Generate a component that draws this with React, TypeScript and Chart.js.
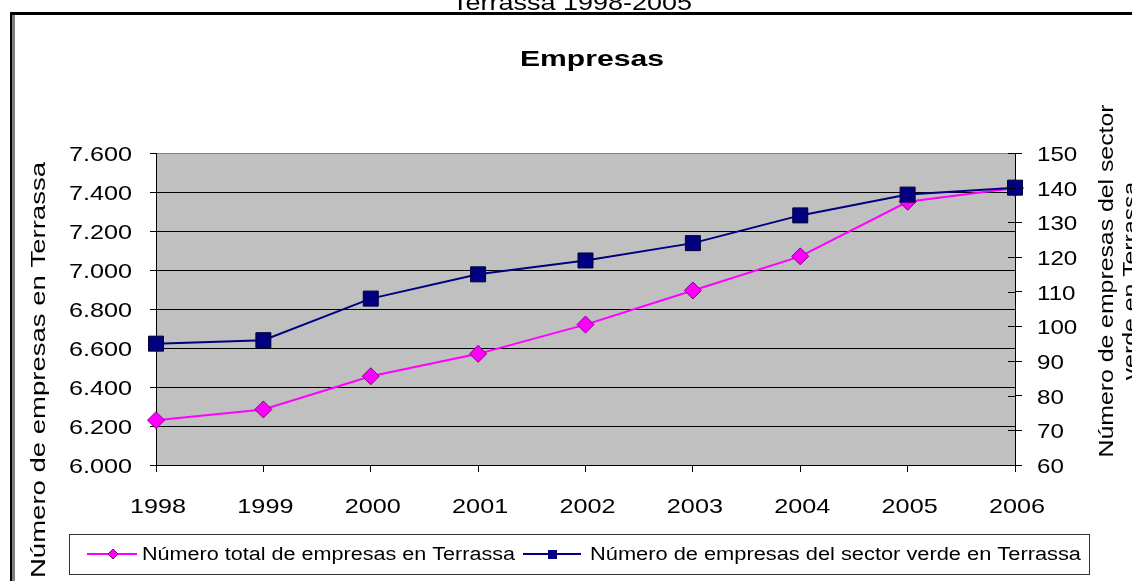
import React, { useEffect, useRef } from 'react';
import { Chart, registerables } from 'chart.js';

Chart.register(...registerables);

// ---- data ----
const years = ['1998', '1999', '2000', '2001', '2002', '2003', '2004', '2005', '2006'];
const totalEmpresas = [6230, 6285, 6455, 6570, 6720, 6895, 7070, 7350, 7420];
const empresasVerdes = [95, 96, 108, 115, 119, 124, 132, 138, 140];
const leftAxisRange = [6000, 7600];
const leftAxisStep = 200;
const rightAxisRange = [60, 150];
const rightAxisStep = 10;
const seriesLabels = [
  'Número total de empresas en Terrassa',
  'Número de empresas del sector verde en Terrassa',
];
const topTitle = 'Terrassa 1998-2005';
const chartTitle = 'Empresas';
const leftAxisTitle = 'Número de empresas en Terrassa';
const rightAxisTitle = ['Número de empresas del sector', 'verde en Terrassa'];

const FONT = '"Liberation Sans", Arial, sans-serif';
const PINK = '#FF00FF';
const NAVY = '#000080';

const fmtThousands = (v: number) => String(v).replace(/\B(?=(\d{3})+(?!\d))/g, '.');

function drawText(
  ctx: CanvasRenderingContext2D,
  text: string,
  x: number,
  y: number,
  font: string,
  opts: { align?: 'left' | 'center' | 'right'; width?: number; sx?: number; rotate?: number } = {}
): number {
  ctx.save();
  ctx.font = font;
  const w = ctx.measureText(text).width;
  const sx = opts.width ? opts.width / w : opts.sx ?? 1;
  const tw = w * sx;
  const align = opts.align ?? 'left';
  const start = align === 'center' ? -tw / 2 : align === 'right' ? -tw : 0;
  ctx.translate(x, y);
  if (opts.rotate) ctx.rotate(opts.rotate);
  ctx.translate(start, 0);
  ctx.scale(sx, 1);
  ctx.textAlign = 'left';
  ctx.textBaseline = 'alphabetic';
  ctx.fillStyle = '#000';
  ctx.fillText(text, 0, 0);
  ctx.restore();
  return sx;
}

const overlayPlugin = {
  id: 'overlay',
  beforeDraw(chart: any) {
    const { ctx, chartArea: a } = chart;
    ctx.save();
    ctx.fillStyle = '#FFFFFF';
    ctx.fillRect(0, 0, chart.width, chart.height);
    ctx.fillStyle = '#C0C0C0';
    ctx.fillRect(a.left, a.top, a.right - a.left, a.bottom - a.top);
    ctx.restore();
  },
  afterDraw(chart: any) {
    const ctx: CanvasRenderingContext2D = chart.ctx;
    const sx = chart.scales.x;
    const sy = chart.scales.y;
    const sy1 = chart.scales.y1;
    const a = chart.chartArea;

    // outer frame
    ctx.save();
    ctx.fillStyle = '#000';
    ctx.fillRect(10, 12, chart.width - 10, 3);
    ctx.fillRect(10, 12, 2.5, chart.height - 12);
    ctx.fillRect(13.5, 15, 1, chart.height - 15);
    ctx.restore();

    // titles
    drawText(ctx, topTitle, 572, 10, `22px ${FONT}`, { align: 'center', width: 240 });
    drawText(ctx, chartTitle, 592, 66, `bold 22px ${FONT}`, { align: 'center', width: 144 });

    // axis titles
    drawText(ctx, leftAxisTitle, 45, 370, `21px ${FONT}`, {
      align: 'center',
      width: 416,
      rotate: -Math.PI / 2,
    });
    const rs = drawText(ctx, rightAxisTitle[0], 1113, 281, `21px ${FONT}`, {
      align: 'center',
      width: 353,
      rotate: -Math.PI / 2,
    });
    drawText(ctx, rightAxisTitle[1], 1137, 281, `21px ${FONT}`, {
      align: 'center',
      sx: rs,
      rotate: -Math.PI / 2,
    });

    // tick labels
    sy.ticks.forEach((t: any) => {
      const y = sy.getPixelForValue(t.value);
      drawText(ctx, fmtThousands(t.value), 132, y + 8, `21px ${FONT}`, { align: 'right', sx: 1.2 });
    });
    sy1.ticks.forEach((t: any) => {
      const y = sy1.getPixelForValue(t.value);
      drawText(ctx, String(t.value), 1037, y + 8, `21px ${FONT}`, { align: 'left', sx: 1.15 });
      // inner half of the crossing tick mark
      ctx.save();
      ctx.strokeStyle = '#000';
      ctx.lineWidth = 1;
      ctx.beginPath();
      const yy = Math.round(y) + 0.5;
      ctx.moveTo(a.right - 7, yy);
      ctx.lineTo(a.right, yy);
      ctx.stroke();
      ctx.restore();
    });
    sx.ticks.forEach((_t: any, i: number) => {
      const x = sx.getPixelForTick(i);
      drawText(ctx, years[i], x + 2, 513, `21px ${FONT}`, { align: 'center', sx: 1.2 });
    });

    // legend
    ctx.save();
    ctx.fillStyle = '#fff';
    ctx.fillRect(69.5, 534.5, 1020, 40);
    ctx.strokeStyle = '#333';
    ctx.lineWidth = 1;
    ctx.strokeRect(69.5, 534.5, 1020, 40);
    // pink sample
    ctx.strokeStyle = PINK;
    ctx.lineWidth = 2;
    ctx.beginPath();
    ctx.moveTo(87, 554);
    ctx.lineTo(137, 554);
    ctx.stroke();
    ctx.fillStyle = PINK;
    ctx.strokeStyle = '#800080';
    ctx.lineWidth = 1;
    ctx.beginPath();
    ctx.moveTo(113, 549);
    ctx.lineTo(118, 554);
    ctx.lineTo(113, 559);
    ctx.lineTo(108, 554);
    ctx.closePath();
    ctx.fill();
    ctx.stroke();
    // navy sample
    ctx.strokeStyle = NAVY;
    ctx.lineWidth = 2;
    ctx.beginPath();
    ctx.moveTo(523, 554);
    ctx.lineTo(581, 554);
    ctx.stroke();
    ctx.fillStyle = NAVY;
    ctx.fillRect(548, 550, 9, 9);
    ctx.restore();
    drawText(ctx, seriesLabels[0], 142, 560, `18px ${FONT}`, { width: 373 });
    drawText(ctx, seriesLabels[1], 590, 560, `18px ${FONT}`, { width: 491 });
  },
};

export default function App() {
  const ref = useRef<HTMLCanvasElement | null>(null);

  useEffect(() => {
    if (!ref.current) return;
    const chart = new Chart(ref.current, {
      type: 'line',
      data: {
        labels: years,
        datasets: [
          {
            label: seriesLabels[0],
            data: totalEmpresas,
            yAxisID: 'y',
            borderColor: PINK,
            borderWidth: 2,
            backgroundColor: PINK,
            pointStyle: 'rectRot',
            pointRadius: 8.5,
            pointHoverRadius: 8.5,
            pointBackgroundColor: PINK,
            pointBorderColor: '#800080',
            pointBorderWidth: 1,
            tension: 0,
            clip: false,
            order: 1,
          },
          {
            label: seriesLabels[1],
            data: empresasVerdes,
            yAxisID: 'y1',
            borderColor: NAVY,
            borderWidth: 2,
            backgroundColor: NAVY,
            pointStyle: 'rect',
            pointRadius: 10.6,
            pointHoverRadius: 10.6,
            pointBackgroundColor: NAVY,
            pointBorderColor: '#000033',
            pointBorderWidth: 1,
            tension: 0,
            clip: false,
            order: 0,
          },
        ],
      },
      options: {
        responsive: false,
        animation: false,
        devicePixelRatio: 1,
        layout: { padding: { top: 153, left: 0, right: 0, bottom: 0 } },
        plugins: {
          legend: { display: false },
          title: { display: false },
          tooltip: { enabled: false },
        },
        scales: {
          x: {
            type: 'category',
            offset: false,
            grid: {
              drawOnChartArea: false,
              drawTicks: true,
              tickLength: 7,
              tickColor: '#000',
              color: '#000',
            },
            border: { display: true, color: '#000', width: 1 },
            ticks: { display: false },
            afterFit: (s: any) => {
              s.height = 116;
            },
          },
          y: {
            type: 'linear',
            position: 'left',
            min: leftAxisRange[0],
            max: leftAxisRange[1],
            ticks: { display: false, stepSize: leftAxisStep },
            grid: {
              drawOnChartArea: true,
              drawTicks: true,
              tickLength: 6,
              tickColor: '#000',
              color: (c: any) => (c.tick && c.tick.value === leftAxisRange[1] ? '#808080' : '#000'),
              lineWidth: 1,
            },
            border: { display: true, color: '#000', width: 1 },
            afterFit: (s: any) => {
              s.width = 156;
            },
          },
          y1: {
            type: 'linear',
            position: 'right',
            min: rightAxisRange[0],
            max: rightAxisRange[1],
            ticks: { display: false, stepSize: rightAxisStep },
            grid: {
              drawOnChartArea: false,
              drawTicks: true,
              tickLength: 7,
              tickColor: '#000',
              color: '#000',
            },
            border: { display: true, color: '#000', width: 1 },
            afterFit: (s: any) => {
              s.width = 117;
            },
          },
        },
      },
      plugins: [overlayPlugin],
    });
    return () => chart.destroy();
  }, []);

  return (
    <div style={{ position: 'fixed', left: 0, top: 0, width: 1132, height: 581, background: '#fff' }}>
      <canvas ref={ref} width={1132} height={581} style={{ display: 'block', width: 1132, height: 581 }} />
    </div>
  );
}
